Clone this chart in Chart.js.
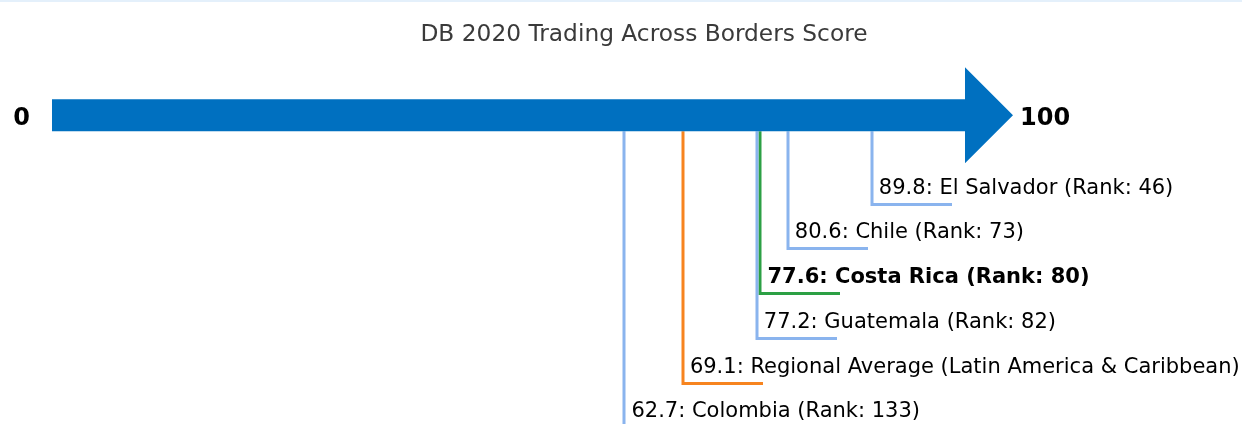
<!DOCTYPE html>
<html>
<head>
<meta charset="utf-8">
<script src="https://cdn.jsdelivr.net/npm/chart.js@4"></script>
<style>
  html, body { margin: 0; padding: 0; background: #fff; }
  #wrap { position: relative; width: 1242px; height: 424px; }
  #wrap::before { content: ''; position: absolute; left: 0; top: 0; width: 100%; height: 2px; background: #e4f0fb; }
</style>
</head>
<body>
<div id="wrap"><canvas id="chart" width="1242" height="424"></canvas></div>
<script>
// Trading Across Borders scores (DB 2020)
const economies = ['El Salvador', 'Chile', 'Costa Rica', 'Guatemala', 'Regional Average (Latin America & Caribbean)', 'Colombia'];
const scores = [89.8, 80.6, 77.6, 77.2, 69.1, 62.7];
const ranks = [46, 73, 80, 82, null, 133];
const kinds = ['peer', 'peer', 'focus', 'peer', 'region', 'peer'];
const rows = [0, 1, 2, 3, 4, 5];
const axisTicks = [0, 100];
const ARROW_ROW = -1.5625;

const FONT = 'DejaVu Sans';
const kindColor = { peer: '#8ab4ee', focus: '#2ca044', region: '#f7841f' };

const labelText = (i) => {
    const r = ranks[i] == null ? '' : ' (Rank: ' + ranks[i] + ')';
    return scores[i].toFixed(1) + ': ' + economies[i] + r;
};

// draws the arrow, leader lines and labels from the chart scales
const scorePlugin = {
    id: 'scoreArrow',
    afterDatasetsDraw(chart) {
        const ctx = chart.ctx;
        const xs = chart.scales.x;
        const ys = chart.scales.y;
        const x0 = xs.getPixelForValue(axisTicks[0]);
        const x1 = xs.getPixelForValue(axisTicks[1]);
        const yc = ys.getPixelForValue(ARROW_ROW);
        const band = 16, head = 48;

        ctx.save();
        // leader lines
        ctx.lineWidth = 3;
        ctx.lineJoin = 'miter';
        rows.forEach((row, i) => {
            const x = Math.round(xs.getPixelForValue(scores[i]));
            const yl = Math.round(ys.getPixelForValue(row) + 18.5) + 0.5;
            ctx.strokeStyle = kindColor[kinds[i]];
            ctx.beginPath();
            ctx.moveTo(x, yc + band);
            ctx.lineTo(x, yl);
            ctx.lineTo(x + 80, yl);
            ctx.stroke();
        });

        // arrow
        ctx.fillStyle = '#0070c0';
        ctx.beginPath();
        ctx.moveTo(x0, yc - band);
        ctx.lineTo(x1, yc - band);
        ctx.lineTo(x1, yc - head);
        ctx.lineTo(x1 + head, yc);
        ctx.lineTo(x1, yc + head);
        ctx.lineTo(x1, yc + band);
        ctx.lineTo(x0, yc + band);
        ctx.closePath();
        ctx.fill();

        // axis end labels
        ctx.fillStyle = '#000';
        ctx.font = 'bold 24px "' + FONT + '"';
        ctx.textBaseline = 'middle';
        ctx.textAlign = 'right';
        ctx.fillText(String(axisTicks[0]), x0 - 22, yc + 3);
        ctx.textAlign = 'left';
        ctx.fillText(String(axisTicks[1]), x1 + head + 7, yc + 3);

        // economy labels
        rows.forEach((row, i) => {
            const x = xs.getPixelForValue(scores[i]);
            const y = ys.getPixelForValue(row);
            ctx.font = (kinds[i] === 'focus' ? 'bold ' : '') + '21px "' + FONT + '"';
            ctx.fillStyle = '#000';
            ctx.fillText(labelText(i), x + 7, y + 3);
        });
        ctx.restore();
    }
};

new Chart(document.getElementById('chart'), {
    type: 'scatter',
    data: {
        datasets: [{
            data: scores.map((s, i) => ({ x: s, y: rows[i] })),
            pointRadius: 0,
            pointHoverRadius: 0
        }]
    },
    options: {
        responsive: false,
        devicePixelRatio: 1,
        animation: false,
        events: [],
        layout: { padding: { left: 46, right: 0, top: 0, bottom: 1.6 } },
        scales: {
            // 0 sits 52px in from the left, 100 at the arrowhead base
            x: { type: 'linear', min: -0.657, max: 130.34, display: false },
            y: { type: 'linear', min: -2, max: 5.3, reverse: true, display: false }
        },
        plugins: {
            legend: { display: false },
            tooltip: { enabled: false },
            title: {
                display: true,
                text: 'DB 2020 Trading Across Borders Score',
                color: '#3a3a3a',
                font: { family: FONT, size: 23.3, weight: 'normal' },
                padding: { top: 21, bottom: 46.8 }
            }
        }
    },
    plugins: [scorePlugin]
});
</script>
</body>
</html>
